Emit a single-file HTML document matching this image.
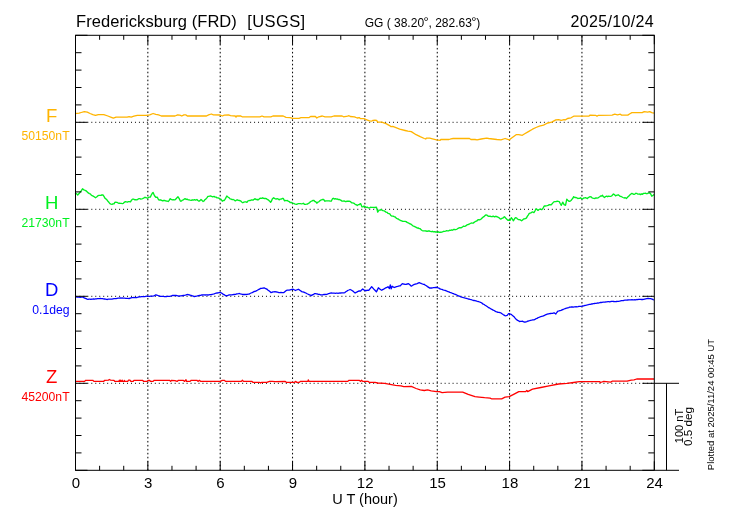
<!DOCTYPE html><html><head><meta charset="utf-8"><style>html,body{margin:0;padding:0;background:#fff;width:730px;height:520px;overflow:hidden}svg{display:block}</style></head><body><svg width="730" height="520" viewBox="0 0 730 520">
<rect width="730" height="520" fill="#fff"/>
<g stroke="#000" stroke-width="1" stroke-dasharray="1 2.97"><line x1="147.85" y1="35.3" x2="147.85" y2="470.29999999999995" stroke-dasharray="1.6 2.37" stroke-dashoffset="-0.67"/><line x1="220.20" y1="35.3" x2="220.20" y2="470.29999999999995" stroke-dasharray="1.6 2.37" stroke-dashoffset="-0.67"/><line x1="292.55" y1="35.3" x2="292.55" y2="470.29999999999995" stroke-dasharray="1.6 2.37" stroke-dashoffset="-0.67"/><line x1="364.90" y1="35.3" x2="364.90" y2="470.29999999999995" stroke-dasharray="1.6 2.37" stroke-dashoffset="-0.67"/><line x1="437.25" y1="35.3" x2="437.25" y2="470.29999999999995" stroke-dasharray="1.6 2.37" stroke-dashoffset="-0.67"/><line x1="509.60" y1="35.3" x2="509.60" y2="470.29999999999995" stroke-dasharray="1.6 2.37" stroke-dashoffset="-0.67"/><line x1="581.95" y1="35.3" x2="581.95" y2="470.29999999999995" stroke-dasharray="1.6 2.37" stroke-dashoffset="-0.67"/><line x1="75.5" y1="122.30" x2="654.3" y2="122.30" stroke-dashoffset="0.08"/><line x1="75.5" y1="209.30" x2="654.3" y2="209.30" stroke-dashoffset="0.08"/><line x1="75.5" y1="296.30" x2="654.3" y2="296.30" stroke-dashoffset="0.08"/><line x1="75.5" y1="383.30" x2="654.3" y2="383.30" stroke-dashoffset="0.08"/></g>
<polyline fill="none" stroke="#FFB400" stroke-width="1.3" stroke-linejoin="round" points="75.0,113.5 79.1,113.2 81.2,112.5 84.3,111.6 87.3,112.1 90.1,113.5 92.8,114.6 95.5,115.4 98.3,114.6 103.8,114.6 107.9,116.0 111.3,117.3 113.4,118.2 116.1,117.1 127.1,117.1 129.1,116.6 131.2,117.1 133.9,116.2 137.3,115.3 146.2,115.3 149.7,114.9 153.1,113.5 155.8,114.3 158.6,114.9 161.3,116.0 175.0,116.0 177.7,114.9 179.8,115.1 181.8,116.0 183.9,114.9 186.0,114.9 187.3,116.0 206.5,116.0 208.6,114.9 211.3,114.0 213.4,114.9 220.2,115.0 222.3,116.0 224.3,115.1 228.4,114.9 230.5,115.7 235.3,116.0 236.0,117.1 236.6,116.0 240.8,116.0 242.1,116.8 259.9,116.8 262.0,116.0 264.0,116.8 270.9,116.8 272.9,116.0 275.0,115.9 283.2,116.0 286.0,117.3 290.1,117.6 292.8,118.3 299.0,118.3 301.0,117.6 309.2,117.6 310.6,116.5 315.4,116.5 316.8,118.0 318.8,116.8 322.3,116.0 325.0,116.8 331.2,116.8 333.9,116.0 342.1,116.0 343.5,116.8 347.6,116.2 349.0,115.7 350.3,116.5 354.5,116.8 357.2,118.0 359.2,117.6 360.6,118.7 364.0,118.7 366.8,119.8 369.5,120.9 371.6,121.2 373.0,120.3 375.0,120.1 376.6,120.3 377.7,122.1 381.8,122.1 386.0,123.7 390.1,125.8 390.8,126.7 392.8,126.4 399.7,129.2 405.1,130.5 407.9,131.2 411.3,131.6 416.1,134.7 420.2,136.7 424.3,138.5 425.7,139.0 426.4,138.1 429.8,138.1 432.5,138.8 436.6,139.9 440.1,140.4 440.8,139.5 449.0,139.5 451.0,138.8 453.1,138.5 469.5,138.5 470.9,139.5 475.0,139.5 477.1,139.9 481.2,139.0 486.6,138.1 488.7,138.5 492.8,139.0 496.9,139.5 501.0,139.9 505.1,138.5 509.2,139.9 510.6,138.8 516.1,134.7 518.8,134.7 522.3,135.3 524.3,134.0 528.4,131.6 532.5,129.2 536.0,127.5 539.4,126.2 543.5,125.1 547.6,123.0 551.7,122.1 555.8,119.9 558.6,119.6 561.3,120.4 564.0,119.6 565.4,119.9 567.5,118.5 571.0,117.8 573.7,116.2 579.2,116.2 588.8,116.2 590.1,115.1 595.6,115.3 597.0,116.2 598.4,115.3 612.1,115.1 614.8,114.2 617.5,114.8 620.3,114.2 621.6,115.1 627.8,115.1 629.9,113.7 631.9,112.6 642.2,112.6 644.2,111.6 647.7,112.1 649.7,111.6 651.8,112.6 654.0,113.2"/>
<polyline fill="none" stroke="#00F020" stroke-width="1.35" stroke-linejoin="round" points="75.0,193.0 76.4,193.6 77.7,195.0 79.1,193.6 80.2,192.1 81.2,190.9 82.5,188.8 83.9,189.9 85.3,190.5 86.3,190.9 87.3,191.9 88.3,192.9 89.4,193.6 90.3,193.9 91.2,195.0 92.1,195.7 93.2,196.1 94.2,196.8 95.5,197.8 96.9,196.8 98.0,195.7 99.0,195.4 100.0,195.4 101.0,195.4 102.0,194.8 103.1,195.0 104.1,196.6 105.1,198.4 106.0,198.9 107.0,199.9 107.9,201.2 108.9,202.3 109.9,203.6 111.0,204.2 112.0,204.3 113.0,203.8 114.0,203.9 114.7,202.5 115.8,202.2 116.8,202.3 117.7,202.7 118.6,203.3 119.5,203.2 120.4,203.4 121.4,203.4 122.3,203.6 123.3,203.4 124.3,202.3 125.3,201.7 126.4,201.9 127.4,202.1 128.4,201.6 129.4,201.6 130.5,201.9 131.5,200.2 132.5,199.1 133.6,199.1 134.6,199.8 135.6,199.6 136.6,199.8 137.6,199.5 138.7,198.7 139.8,198.6 140.8,199.1 141.7,198.9 142.6,198.6 143.5,198.2 144.9,197.3 145.8,197.5 146.7,197.9 147.6,198.2 148.5,197.4 149.4,197.1 150.3,197.1 151.4,194.8 152.4,193.0 153.1,192.4 154.5,195.7 155.8,197.3 157.2,197.1 158.6,199.8 159.6,200.0 160.6,199.8 161.6,200.3 162.7,200.9 163.7,200.5 164.7,200.5 165.6,200.8 166.4,201.0 167.3,201.1 168.2,201.5 169.2,200.4 170.2,198.7 171.2,199.4 172.3,199.8 173.2,199.6 174.1,199.9 175.0,199.8 176.4,198.4 177.2,197.6 178.0,196.8 179.1,198.4 180.5,201.2 181.5,201.0 182.5,200.1 183.4,199.8 184.4,199.0 185.3,198.7 186.2,199.5 187.1,199.1 188.0,199.8 189.1,199.9 190.1,200.2 191.2,200.4 192.3,199.8 193.3,200.1 194.4,199.7 195.5,200.1 196.9,199.5 197.9,200.5 199.0,201.2 200.0,200.6 201.0,199.5 202.1,200.6 203.1,201.5 204.0,201.0 204.9,199.7 205.8,199.1 206.9,197.9 207.9,196.4 208.8,196.4 209.7,196.2 210.6,196.0 211.6,196.4 212.7,196.8 214.0,196.4 215.1,197.1 216.1,197.1 217.0,197.9 217.9,197.8 218.8,198.2 219.9,198.8 220.9,199.1 222.3,201.2 223.3,200.5 224.3,200.5 225.6,198.4 226.8,196.0 227.9,197.0 229.1,197.8 230.1,198.9 231.2,199.1 232.2,199.6 233.2,199.5 234.2,200.0 235.3,200.9 236.3,200.2 237.3,199.8 238.4,200.3 239.4,200.5 240.5,200.8 241.7,202.0 242.8,202.8 243.9,202.1 244.9,201.9 245.9,201.8 246.9,202.3 247.9,201.0 249.0,200.5 250.0,200.6 251.1,200.0 252.1,200.0 253.1,200.1 254.1,199.3 255.1,198.7 256.0,199.5 257.0,199.3 257.9,200.1 258.9,199.2 259.9,198.4 260.8,198.2 261.8,198.3 262.7,197.8 263.6,198.3 264.5,198.5 265.4,198.4 266.3,198.7 267.3,199.3 268.2,199.8 269.4,200.9 270.6,202.3 271.5,201.0 272.3,199.1 273.6,197.8 275.0,198.6 276.1,199.1 277.1,198.7 278.1,198.9 279.1,199.8 280.1,199.2 281.2,199.1 282.2,198.5 283.2,198.4 284.6,200.9 285.5,200.5 286.4,200.6 287.3,200.5 288.2,201.2 289.2,201.6 290.1,202.5 291.0,202.3 291.9,202.9 292.8,203.2 293.7,203.4 294.6,203.9 295.5,204.2 296.4,204.4 297.4,204.0 298.3,203.6 299.3,203.6 300.4,203.7 301.4,203.8 302.4,203.6 303.4,203.3 304.4,204.3 305.5,204.3 306.5,204.2 307.6,204.0 308.6,203.2 309.5,202.8 310.4,201.8 311.3,201.2 312.2,200.9 313.1,200.4 314.0,200.5 314.9,201.5 315.9,201.9 316.8,203.2 317.8,202.2 318.8,201.9 319.7,200.9 320.7,200.2 321.6,199.8 322.6,199.5 323.6,199.5 325.0,201.2 326.0,200.8 327.1,200.8 328.1,200.9 329.1,200.8 330.2,201.1 331.2,201.2 332.5,198.7 333.4,198.3 334.4,199.0 335.3,198.7 336.2,199.1 337.1,198.9 338.0,199.5 339.1,199.4 340.1,199.8 341.1,200.4 342.1,201.2 343.1,201.1 344.1,200.9 345.1,201.5 346.0,201.6 347.0,201.2 348.0,201.2 349.0,201.2 349.9,201.4 350.8,201.9 351.7,202.8 352.6,202.9 353.6,203.1 354.5,203.6 355.4,204.6 356.3,204.6 357.2,205.6 358.2,204.7 359.2,204.6 360.6,203.6 362.0,206.9 363.0,206.9 364.0,206.0 365.1,206.7 366.1,207.3 367.2,207.2 368.4,207.8 369.5,208.0 370.6,207.2 371.6,207.3 372.6,207.3 373.6,207.3 375.0,207.5 376.4,207.1 377.7,212.1 379.1,210.1 380.1,210.2 381.2,209.4 382.2,210.3 383.1,210.7 384.1,210.8 385.0,211.4 386.0,212.1 387.0,212.3 388.1,213.4 389.1,213.7 390.1,214.2 390.8,215.5 391.9,216.1 393.1,216.1 394.2,216.6 395.2,217.0 396.2,218.1 397.3,218.8 398.3,219.0 399.4,219.9 400.6,220.5 401.7,220.8 402.8,221.3 404.0,221.3 405.1,221.3 406.1,221.6 407.1,222.4 408.2,222.8 409.2,223.5 410.2,223.8 411.3,224.4 412.3,225.3 413.4,226.2 414.3,226.3 415.2,227.0 416.1,227.2 417.1,228.0 418.1,227.9 419.2,228.6 420.2,228.6 421.1,229.8 422.1,230.5 423.0,230.9 424.0,230.9 425.1,230.8 426.1,231.0 427.1,231.3 428.2,231.0 429.3,231.0 430.3,231.4 431.4,231.7 432.5,231.3 433.5,231.8 434.6,231.6 435.6,232.0 436.6,232.0 437.5,232.4 438.5,231.8 439.4,232.3 440.4,232.2 441.4,232.2 442.5,231.8 443.5,231.3 444.5,231.4 445.6,231.1 446.6,230.7 447.6,230.9 448.6,230.9 449.6,230.2 450.7,230.4 451.7,229.9 452.6,230.2 453.5,229.5 454.4,229.4 455.4,229.7 456.3,229.4 457.2,229.0 458.1,228.3 459.0,227.9 459.9,227.6 460.9,227.9 461.8,227.4 462.7,226.8 463.6,226.1 464.5,226.3 465.4,226.1 466.4,225.4 467.3,224.7 468.2,224.5 469.2,224.2 470.2,223.5 471.3,223.0 472.3,223.1 473.2,223.1 474.1,222.4 475.0,221.8 475.9,221.2 476.8,221.0 477.7,220.0 478.6,219.7 479.4,219.8 480.3,219.5 481.2,219.0 482.1,218.0 483.0,217.2 483.9,216.7 484.9,215.6 486.0,214.9 486.9,215.1 487.8,215.9 488.7,216.3 489.8,216.2 491.0,216.5 492.1,216.7 493.2,216.2 494.4,216.8 495.5,216.3 496.4,216.5 497.4,216.9 498.3,217.3 499.2,217.9 500.1,218.8 501.0,219.0 501.9,218.4 502.8,218.2 503.6,217.3 504.5,216.7 505.6,218.0 506.8,219.2 507.9,220.4 508.9,220.0 510.0,220.4 511.3,217.7 512.4,219.2 513.4,220.8 514.4,219.0 515.4,217.7 516.5,217.9 517.5,219.0 518.5,219.6 519.5,219.7 520.5,220.0 521.6,220.8 522.6,219.9 523.6,219.0 524.5,218.9 525.5,218.5 526.4,218.1 527.3,216.4 528.2,215.1 529.1,213.6 530.0,213.2 530.9,212.9 531.8,212.2 532.8,212.0 533.9,212.6 535.0,210.8 536.0,208.8 537.0,209.4 538.0,210.4 539.0,209.5 540.1,209.0 541.1,209.5 542.1,209.5 543.2,207.8 544.2,206.0 545.2,206.0 546.2,205.8 547.1,205.7 548.1,205.4 549.0,204.7 550.0,204.7 551.0,204.9 551.9,204.0 552.9,202.9 553.8,201.9 554.9,201.7 556.1,201.6 557.2,201.2 558.2,201.4 559.2,201.6 560.2,203.5 561.3,205.3 562.7,202.2 564.1,204.7 565.5,205.3 566.8,199.2 567.8,200.2 568.9,201.2 570.0,201.2 571.0,200.5 571.9,199.4 572.8,198.3 573.7,196.7 574.8,197.5 575.8,197.5 576.8,197.8 577.8,198.5 578.7,198.3 579.6,198.4 580.5,197.8 581.5,198.7 582.6,198.9 583.7,198.0 584.7,197.8 585.6,197.7 586.5,198.2 587.4,198.5 588.3,197.5 589.2,197.1 590.1,196.7 591.0,196.8 592.0,197.8 592.9,198.1 593.9,198.4 595.0,198.5 596.0,197.8 597.0,198.1 597.9,197.8 598.8,197.3 599.7,196.7 600.6,195.9 601.6,196.1 602.5,195.3 603.5,196.8 604.5,197.5 605.5,196.6 606.6,196.2 607.6,196.7 608.7,196.2 609.7,196.3 610.7,196.4 611.6,196.0 612.5,195.1 613.4,194.0 614.5,194.6 615.5,195.8 616.4,195.4 617.3,195.1 618.2,194.8 619.2,195.5 620.3,196.4 621.2,196.5 622.1,197.0 623.0,197.5 624.1,198.0 625.3,197.7 626.4,198.5 627.3,197.6 628.3,196.6 629.2,195.8 630.1,194.6 631.0,194.0 631.9,193.4 633.0,194.0 634.0,194.4 634.9,194.1 635.8,193.3 636.7,193.4 637.6,194.0 638.6,194.1 639.5,194.0 640.4,194.6 641.3,193.9 642.2,194.4 643.6,193.4 644.5,193.3 645.4,193.2 646.3,193.7 647.3,193.6 648.4,193.0 649.4,193.0 650.4,193.4 651.8,196.2 653.2,195.3 654.0,194.4"/>
<polyline fill="none" stroke="#0000FF" stroke-width="1.3" stroke-linejoin="round" points="75.0,296.9 76.0,296.9 77.0,297.0 78.1,297.2 79.1,297.2 80.1,297.3 81.2,297.1 82.2,297.1 83.2,297.2 84.2,297.9 85.3,298.3 86.2,298.7 87.1,299.1 88.0,299.4 89.0,299.2 89.9,299.1 90.9,299.3 91.8,299.1 92.8,299.1 93.7,298.9 94.6,299.1 95.5,298.9 96.5,298.9 97.4,298.6 98.3,298.6 99.3,298.7 100.3,298.5 101.4,298.7 102.4,298.6 103.4,298.8 104.5,299.0 105.5,299.2 106.5,299.4 107.4,299.5 108.3,299.2 109.2,299.1 110.2,299.2 111.1,299.1 112.0,299.1 113.0,298.9 114.0,298.7 115.1,298.6 116.1,298.6 117.1,298.4 118.2,298.2 119.2,298.1 120.2,298.0 121.1,298.1 122.0,298.0 123.0,298.2 123.9,298.1 124.8,298.2 125.7,298.3 126.8,298.3 128.0,298.4 129.1,298.6 130.0,298.1 130.9,298.0 131.8,297.6 132.9,297.6 133.9,297.5 134.9,297.6 136.0,297.6 137.1,297.5 138.3,297.0 139.4,296.9 140.4,296.9 141.4,296.7 142.5,296.7 143.5,296.6 144.6,296.6 145.8,296.3 146.9,296.2 147.9,296.2 148.8,296.3 149.8,296.3 150.7,296.2 151.7,296.2 152.8,296.1 153.8,295.8 154.8,295.4 155.8,294.9 156.9,295.2 157.9,295.5 158.8,295.8 159.7,296.1 160.6,296.4 161.6,296.3 162.5,296.4 163.5,296.4 164.4,296.6 165.4,296.6 166.4,296.5 167.4,296.4 168.5,296.3 169.5,296.4 170.4,296.2 171.4,295.9 172.3,295.5 173.2,295.5 174.1,295.4 175.0,295.4 176.0,295.5 177.1,295.7 178.1,296.0 179.1,296.2 180.1,295.9 181.1,295.8 182.2,295.6 183.2,295.5 184.2,295.4 185.1,295.2 186.1,294.9 187.0,294.6 188.0,294.5 188.9,294.9 189.9,295.0 190.8,295.3 191.9,295.7 193.1,296.0 194.2,296.6 195.3,296.3 196.5,296.1 197.6,295.8 198.6,295.6 199.5,295.4 200.5,295.3 201.4,295.0 202.4,295.0 203.3,294.9 204.2,294.9 205.2,295.0 206.1,294.9 207.0,294.9 207.9,295.0 208.9,294.8 209.9,294.7 211.0,294.7 212.0,294.5 213.0,294.2 214.1,293.9 215.1,293.5 216.1,293.1 217.1,293.0 218.1,292.9 219.2,292.6 220.2,292.5 221.2,292.9 222.3,293.5 223.4,294.4 224.6,294.9 225.7,295.8 226.7,295.6 227.8,295.4 228.8,295.0 229.8,294.9 230.8,294.9 231.9,294.8 232.9,294.6 233.9,294.5 234.8,294.4 235.7,294.3 236.7,293.9 237.6,293.8 238.5,293.7 239.4,293.5 240.4,293.9 241.4,294.1 242.5,294.3 243.5,294.5 244.4,294.5 245.3,294.5 246.2,294.4 247.2,294.4 248.1,294.2 249.0,294.2 250.0,293.5 251.1,293.0 252.1,292.6 253.1,292.1 254.1,291.5 255.1,291.3 256.2,290.8 257.2,290.3 258.3,289.7 259.5,289.1 260.6,288.4 261.7,288.3 262.9,288.1 264.0,288.0 264.9,288.2 265.9,288.8 266.8,289.0 267.8,289.9 268.9,290.8 269.9,291.6 270.9,292.5 271.9,292.3 272.9,291.9 274.0,291.9 275.0,291.6 276.0,291.8 277.1,292.0 278.1,292.3 279.1,292.6 280.1,292.7 281.0,292.5 282.0,292.7 282.9,292.7 283.9,292.6 284.8,291.8 285.7,291.0 286.6,290.3 287.5,290.2 288.4,290.2 289.2,290.1 290.1,289.9 291.0,289.7 291.9,289.5 292.8,289.2 293.7,289.5 294.6,290.0 295.5,290.5 296.4,290.0 297.4,289.7 298.3,289.2 299.4,289.9 300.6,290.8 301.7,291.6 302.7,291.8 303.8,292.2 304.8,292.6 305.8,293.0 306.7,293.5 307.7,294.0 308.6,294.4 309.5,294.9 310.4,295.1 311.3,295.6 312.4,294.9 313.6,294.3 314.7,293.6 315.6,293.7 316.6,293.8 317.5,294.0 318.5,294.3 319.6,294.4 320.6,294.8 321.6,294.9 322.6,294.9 323.6,294.5 324.7,294.5 325.7,294.4 326.6,294.3 327.5,294.1 328.4,293.7 329.4,293.4 330.3,293.1 331.2,293.0 332.2,293.2 333.2,293.1 334.3,293.2 335.3,293.3 336.2,293.1 337.1,293.2 338.1,293.3 339.0,293.0 339.9,293.1 340.8,293.0 341.8,292.9 342.9,292.9 343.9,292.8 344.9,292.6 345.8,291.8 346.7,291.3 347.6,290.5 348.9,290.0 350.1,289.5 351.2,290.0 352.4,290.8 353.3,291.4 354.2,292.3 355.1,293.0 356.1,292.4 357.2,291.9 358.2,291.3 359.2,290.8 360.6,291.2 361.6,289.9 362.7,288.9 363.7,289.7 364.7,290.5 365.7,290.4 366.8,290.5 367.8,290.2 368.8,290.3 369.7,289.2 370.7,288.0 371.6,286.7 372.7,287.8 373.9,289.2 375.0,290.3 376.4,291.9 377.4,289.9 378.4,287.8 379.8,288.9 380.8,289.7 381.8,290.3 382.7,289.6 383.7,289.1 384.6,288.5 385.7,287.9 386.9,287.4 388.0,286.7 389.4,288.5 390.3,284.8 391.2,288.9 392.1,286.2 393.1,286.9 394.2,287.5 395.3,287.1 396.5,286.7 397.6,286.4 398.5,286.1 399.4,285.9 400.3,285.8 401.4,284.6 402.4,283.7 403.3,284.0 404.2,284.1 405.1,284.4 406.1,284.3 407.2,284.0 408.6,283.7 409.5,284.5 410.4,285.3 411.3,286.2 412.4,285.5 413.4,284.8 414.3,284.4 415.2,284.2 416.1,284.0 417.1,283.7 418.1,283.2 419.1,282.6 420.4,283.2 421.6,283.7 422.5,284.0 423.4,284.3 424.3,284.4 425.4,285.2 426.4,285.8 427.5,286.6 428.7,287.4 429.8,288.1 430.7,287.9 431.6,288.0 432.5,287.8 433.4,287.7 434.4,287.7 435.3,287.5 436.3,287.5 437.3,287.5 438.2,287.9 439.1,288.2 439.9,288.9 440.8,289.2 441.9,289.4 443.0,289.8 444.0,290.1 445.1,290.4 446.2,290.8 447.1,291.2 448.0,291.7 448.9,291.8 449.9,292.3 450.8,292.6 451.7,293.0 452.6,293.4 453.5,293.7 454.4,294.1 455.4,294.4 456.3,294.8 457.2,295.3 458.1,295.8 459.0,296.0 459.9,296.3 460.9,296.8 461.8,297.2 462.7,297.4 463.6,297.7 464.5,297.8 465.4,298.1 466.4,298.3 467.3,298.7 468.2,299.0 469.2,299.1 470.1,299.4 471.1,299.7 472.1,300.0 473.1,300.3 474.0,300.5 475.0,300.7 475.9,300.9 476.8,301.2 477.8,301.5 478.7,301.7 479.6,302.0 480.5,302.3 481.4,302.8 482.3,303.4 483.2,304.2 484.2,304.5 485.1,305.2 486.0,305.8 487.1,306.5 488.2,307.3 489.2,307.8 490.3,308.5 491.4,309.2 492.3,309.6 493.2,310.1 494.1,310.5 495.1,311.1 496.0,311.6 496.9,311.9 497.9,312.3 498.9,312.3 500.0,312.6 501.0,313.0 502.0,313.8 503.1,314.5 504.1,315.1 505.1,315.8 506.1,315.6 507.2,315.3 508.6,313.6 509.5,313.7 510.4,314.1 511.3,314.4 512.2,315.3 513.1,316.0 514.0,316.7 514.9,317.9 515.9,319.0 516.8,319.9 517.7,320.4 518.6,320.8 519.5,321.5 520.4,321.3 521.4,321.3 522.3,321.2 523.2,321.6 524.1,322.0 525.0,322.2 525.9,321.9 526.8,321.6 527.7,321.2 528.6,321.0 529.6,320.7 530.5,320.4 531.6,320.2 532.8,319.9 533.9,319.9 534.9,319.4 536.0,318.7 537.0,318.4 538.0,317.7 538.9,317.4 539.8,317.0 540.8,316.6 541.7,316.4 542.6,316.2 543.5,315.8 544.5,315.4 545.5,314.8 546.6,314.3 547.6,314.0 548.6,313.9 549.6,313.7 550.6,313.5 551.5,313.3 552.5,313.3 553.5,313.0 554.5,313.0 555.8,314.0 556.8,312.5 557.9,311.2 559.0,310.9 560.0,310.6 561.0,310.3 562.0,309.8 563.1,309.5 564.1,309.0 565.0,308.7 565.9,308.3 566.9,308.0 567.8,307.9 568.7,307.6 569.6,307.2 570.5,307.1 571.4,307.0 572.4,307.0 573.3,307.1 574.2,306.9 575.1,306.9 576.1,306.7 577.0,306.8 578.0,306.7 579.0,306.4 580.0,306.3 580.9,306.3 581.9,306.2 582.8,306.0 583.7,305.8 584.6,305.5 585.6,305.4 586.5,305.2 587.4,304.9 588.4,304.7 589.3,304.4 590.3,304.4 591.3,304.0 592.3,304.0 593.2,303.6 594.2,303.5 595.2,303.3 596.2,303.3 597.2,303.0 598.1,303.1 599.1,302.8 600.1,302.5 601.1,302.5 602.1,302.3 603.0,302.2 604.0,302.2 605.0,302.2 606.0,301.8 606.9,301.8 607.9,301.7 608.9,301.6 609.8,301.8 610.8,301.5 611.7,301.4 612.7,301.4 613.7,301.5 614.6,301.6 615.6,301.6 616.5,301.5 617.5,301.4 618.5,301.4 619.6,301.2 620.6,300.9 621.6,300.7 622.7,300.7 623.7,300.5 624.8,300.1 625.8,300.1 626.8,300.1 627.8,300.0 628.9,299.9 629.9,299.9 630.9,299.8 632.0,299.7 633.0,299.8 634.0,299.8 634.9,299.7 635.8,299.8 636.8,299.5 637.7,299.7 638.6,299.4 639.5,299.4 640.5,299.4 641.5,299.5 642.6,299.5 643.6,299.4 644.6,299.1 645.7,298.8 646.7,298.6 647.7,298.4 648.6,298.5 649.5,298.7 650.4,298.7 651.3,298.9 652.2,299.2 653.1,299.6 654.0,299.8"/>
<polyline fill="none" stroke="#FF0000" stroke-width="1.3" stroke-linejoin="round" points="75.0,381.4 84.6,381.4 85.7,380.3 92.8,380.3 93.9,381.4 103.8,381.4 104.5,380.3 108.6,380.1 109.2,379.5 110.6,380.1 114.0,380.3 114.7,381.3 119.0,381.3 119.3,380.2 119.6,381.3 120.3,381.3 120.6,380.2 120.9,381.3 121.9,381.3 122.2,380.2 122.5,381.3 124.1,381.3 124.4,380.4 124.7,381.3 127.9,381.3 128.4,380.2 130.1,380.2 130.6,381.3 133.2,381.3 133.9,380.3 142.8,380.3 143.5,381.4 146.9,381.4 148.3,380.3 149.7,380.3 150.3,381.4 153.1,381.4 154.2,380.3 169.5,380.3 170.6,381.4 171.6,380.3 175.0,380.6 177.1,381.4 178.4,380.3 183.2,380.3 184.6,381.4 186.0,379.8 186.6,381.4 190.1,381.4 191.2,380.3 196.9,380.3 198.0,381.4 199.4,380.3 200.8,381.4 220.2,381.4 222.3,380.3 224.3,380.3 225.7,381.4 241.4,381.4 242.4,380.3 243.5,381.4 251.7,381.4 253.1,382.4 259.9,382.4 260.6,383.1 261.3,382.4 266.8,382.4 269.5,381.4 272.3,381.4 275.0,381.6 285.3,381.4 286.6,382.4 294.2,382.4 295.5,381.4 296.9,382.4 299.0,382.4 300.3,381.4 307.9,381.4 308.3,379.8 309.0,381.4 347.6,381.4 349.0,380.3 359.2,380.3 360.6,381.4 361.6,380.3 362.7,381.4 368.2,381.4 369.5,382.4 375.0,382.4 377.7,383.0 384.6,383.4 390.1,384.4 395.5,385.3 401.0,385.8 403.8,386.7 411.3,386.4 416.1,388.5 420.2,389.9 424.3,390.5 427.7,389.9 431.2,390.8 436.6,391.6 439.4,391.6 442.1,392.6 447.6,392.2 462.7,392.2 468.2,394.4 475.0,396.7 479.1,397.1 484.6,397.7 490.1,398.1 491.4,398.8 501.7,398.8 505.1,397.1 509.2,396.7 512.7,394.9 518.8,391.6 525.7,391.6 526.8,390.5 527.7,391.6 532.5,389.2 540.8,387.5 549.0,385.8 558.6,384.0 566.8,383.4 573.7,382.5 579.2,381.7 599.7,381.7 600.4,382.5 603.8,381.4 610.7,382.1 612.1,381.2 627.1,381.2 631.2,380.1 634.0,379.8 636.7,379.0 654.0,379.0"/>
<g stroke="#000" stroke-width="1" fill="none"><rect x="75.5" y="35.3" width="578.8" height="434.99999999999994" fill="none"/><line x1="75.50" y1="470.29999999999995" x2="75.50" y2="461.29999999999995"/><line x1="75.50" y1="35.3" x2="75.50" y2="44.3"/><line x1="99.62" y1="470.29999999999995" x2="99.62" y2="465.79999999999995"/><line x1="99.62" y1="35.3" x2="99.62" y2="39.8"/><line x1="123.73" y1="470.29999999999995" x2="123.73" y2="465.79999999999995"/><line x1="123.73" y1="35.3" x2="123.73" y2="39.8"/><line x1="147.85" y1="470.29999999999995" x2="147.85" y2="461.29999999999995"/><line x1="147.85" y1="35.3" x2="147.85" y2="44.3"/><line x1="171.97" y1="470.29999999999995" x2="171.97" y2="465.79999999999995"/><line x1="171.97" y1="35.3" x2="171.97" y2="39.8"/><line x1="196.08" y1="470.29999999999995" x2="196.08" y2="465.79999999999995"/><line x1="196.08" y1="35.3" x2="196.08" y2="39.8"/><line x1="220.20" y1="470.29999999999995" x2="220.20" y2="461.29999999999995"/><line x1="220.20" y1="35.3" x2="220.20" y2="44.3"/><line x1="244.32" y1="470.29999999999995" x2="244.32" y2="465.79999999999995"/><line x1="244.32" y1="35.3" x2="244.32" y2="39.8"/><line x1="268.43" y1="470.29999999999995" x2="268.43" y2="465.79999999999995"/><line x1="268.43" y1="35.3" x2="268.43" y2="39.8"/><line x1="292.55" y1="470.29999999999995" x2="292.55" y2="461.29999999999995"/><line x1="292.55" y1="35.3" x2="292.55" y2="44.3"/><line x1="316.67" y1="470.29999999999995" x2="316.67" y2="465.79999999999995"/><line x1="316.67" y1="35.3" x2="316.67" y2="39.8"/><line x1="340.78" y1="470.29999999999995" x2="340.78" y2="465.79999999999995"/><line x1="340.78" y1="35.3" x2="340.78" y2="39.8"/><line x1="364.90" y1="470.29999999999995" x2="364.90" y2="461.29999999999995"/><line x1="364.90" y1="35.3" x2="364.90" y2="44.3"/><line x1="389.02" y1="470.29999999999995" x2="389.02" y2="465.79999999999995"/><line x1="389.02" y1="35.3" x2="389.02" y2="39.8"/><line x1="413.13" y1="470.29999999999995" x2="413.13" y2="465.79999999999995"/><line x1="413.13" y1="35.3" x2="413.13" y2="39.8"/><line x1="437.25" y1="470.29999999999995" x2="437.25" y2="461.29999999999995"/><line x1="437.25" y1="35.3" x2="437.25" y2="44.3"/><line x1="461.37" y1="470.29999999999995" x2="461.37" y2="465.79999999999995"/><line x1="461.37" y1="35.3" x2="461.37" y2="39.8"/><line x1="485.48" y1="470.29999999999995" x2="485.48" y2="465.79999999999995"/><line x1="485.48" y1="35.3" x2="485.48" y2="39.8"/><line x1="509.60" y1="470.29999999999995" x2="509.60" y2="461.29999999999995"/><line x1="509.60" y1="35.3" x2="509.60" y2="44.3"/><line x1="533.72" y1="470.29999999999995" x2="533.72" y2="465.79999999999995"/><line x1="533.72" y1="35.3" x2="533.72" y2="39.8"/><line x1="557.83" y1="470.29999999999995" x2="557.83" y2="465.79999999999995"/><line x1="557.83" y1="35.3" x2="557.83" y2="39.8"/><line x1="581.95" y1="470.29999999999995" x2="581.95" y2="461.29999999999995"/><line x1="581.95" y1="35.3" x2="581.95" y2="44.3"/><line x1="606.07" y1="470.29999999999995" x2="606.07" y2="465.79999999999995"/><line x1="606.07" y1="35.3" x2="606.07" y2="39.8"/><line x1="630.18" y1="470.29999999999995" x2="630.18" y2="465.79999999999995"/><line x1="630.18" y1="35.3" x2="630.18" y2="39.8"/><line x1="654.30" y1="470.29999999999995" x2="654.30" y2="461.29999999999995"/><line x1="654.30" y1="35.3" x2="654.30" y2="44.3"/><line x1="75.5" y1="35.30" x2="87.5" y2="35.30"/><line x1="654.3" y1="35.30" x2="642.3" y2="35.30"/><line x1="75.5" y1="52.70" x2="81.5" y2="52.70"/><line x1="654.3" y1="52.70" x2="648.3" y2="52.70"/><line x1="75.5" y1="70.10" x2="81.5" y2="70.10"/><line x1="654.3" y1="70.10" x2="648.3" y2="70.10"/><line x1="75.5" y1="87.50" x2="81.5" y2="87.50"/><line x1="654.3" y1="87.50" x2="648.3" y2="87.50"/><line x1="75.5" y1="104.90" x2="81.5" y2="104.90"/><line x1="654.3" y1="104.90" x2="648.3" y2="104.90"/><line x1="75.5" y1="122.30" x2="87.5" y2="122.30"/><line x1="654.3" y1="122.30" x2="642.3" y2="122.30"/><line x1="75.5" y1="139.70" x2="81.5" y2="139.70"/><line x1="654.3" y1="139.70" x2="648.3" y2="139.70"/><line x1="75.5" y1="157.10" x2="81.5" y2="157.10"/><line x1="654.3" y1="157.10" x2="648.3" y2="157.10"/><line x1="75.5" y1="174.50" x2="81.5" y2="174.50"/><line x1="654.3" y1="174.50" x2="648.3" y2="174.50"/><line x1="75.5" y1="191.90" x2="81.5" y2="191.90"/><line x1="654.3" y1="191.90" x2="648.3" y2="191.90"/><line x1="75.5" y1="209.30" x2="87.5" y2="209.30"/><line x1="654.3" y1="209.30" x2="642.3" y2="209.30"/><line x1="75.5" y1="226.70" x2="81.5" y2="226.70"/><line x1="654.3" y1="226.70" x2="648.3" y2="226.70"/><line x1="75.5" y1="244.10" x2="81.5" y2="244.10"/><line x1="654.3" y1="244.10" x2="648.3" y2="244.10"/><line x1="75.5" y1="261.50" x2="81.5" y2="261.50"/><line x1="654.3" y1="261.50" x2="648.3" y2="261.50"/><line x1="75.5" y1="278.90" x2="81.5" y2="278.90"/><line x1="654.3" y1="278.90" x2="648.3" y2="278.90"/><line x1="75.5" y1="296.30" x2="87.5" y2="296.30"/><line x1="654.3" y1="296.30" x2="642.3" y2="296.30"/><line x1="75.5" y1="313.70" x2="81.5" y2="313.70"/><line x1="654.3" y1="313.70" x2="648.3" y2="313.70"/><line x1="75.5" y1="331.10" x2="81.5" y2="331.10"/><line x1="654.3" y1="331.10" x2="648.3" y2="331.10"/><line x1="75.5" y1="348.50" x2="81.5" y2="348.50"/><line x1="654.3" y1="348.50" x2="648.3" y2="348.50"/><line x1="75.5" y1="365.90" x2="81.5" y2="365.90"/><line x1="654.3" y1="365.90" x2="648.3" y2="365.90"/><line x1="75.5" y1="383.30" x2="87.5" y2="383.30"/><line x1="654.3" y1="383.30" x2="642.3" y2="383.30"/><line x1="75.5" y1="400.70" x2="81.5" y2="400.70"/><line x1="654.3" y1="400.70" x2="648.3" y2="400.70"/><line x1="75.5" y1="418.10" x2="81.5" y2="418.10"/><line x1="654.3" y1="418.10" x2="648.3" y2="418.10"/><line x1="75.5" y1="435.50" x2="81.5" y2="435.50"/><line x1="654.3" y1="435.50" x2="648.3" y2="435.50"/><line x1="75.5" y1="452.90" x2="81.5" y2="452.90"/><line x1="654.3" y1="452.90" x2="648.3" y2="452.90"/><line x1="75.5" y1="470.30" x2="87.5" y2="470.30"/><line x1="654.3" y1="470.30" x2="642.3" y2="470.30"/><line x1="654.3" y1="383.30" x2="679" y2="383.30"/><line x1="654.3" y1="470.29999999999995" x2="679" y2="470.29999999999995"/><line x1="666.5" y1="383.30" x2="666.5" y2="470.29999999999995"/></g>
<text x="76" y="26.8" font-size="16.5" letter-spacing="0.07" font-family="Liberation Sans, Arial, sans-serif">Fredericksburg (FRD)</text><text x="247.2" y="26.8" font-size="16.5" letter-spacing="0.4" font-family="Liberation Sans, Arial, sans-serif">[USGS]</text><text x="364.7" y="26.7" font-size="12" font-family="Liberation Sans, Arial, sans-serif">GG ( 38.20<tspan font-size="13" dx="-0.5" dy="-0.9">°</tspan><tspan dx="-0.3" dy="0.9">, 282.63</tspan><tspan font-size="13" dx="-0.5" dy="-0.9">°</tspan><tspan dx="-0.3" dy="0.9">)</tspan></text><text x="654" y="26.6" font-size="16" letter-spacing="0.35" text-anchor="end" font-family="Liberation Sans, Arial, sans-serif">2025/10/24</text><text x="75.80" y="487.8" font-size="15" text-anchor="middle" font-family="Liberation Sans, Arial, sans-serif">0</text><text x="148.15" y="487.8" font-size="15" text-anchor="middle" font-family="Liberation Sans, Arial, sans-serif">3</text><text x="220.50" y="487.8" font-size="15" text-anchor="middle" font-family="Liberation Sans, Arial, sans-serif">6</text><text x="292.85" y="487.8" font-size="15" text-anchor="middle" font-family="Liberation Sans, Arial, sans-serif">9</text><text x="365.20" y="487.8" font-size="15" text-anchor="middle" font-family="Liberation Sans, Arial, sans-serif">12</text><text x="437.55" y="487.8" font-size="15" text-anchor="middle" font-family="Liberation Sans, Arial, sans-serif">15</text><text x="509.90" y="487.8" font-size="15" text-anchor="middle" font-family="Liberation Sans, Arial, sans-serif">18</text><text x="582.25" y="487.8" font-size="15" text-anchor="middle" font-family="Liberation Sans, Arial, sans-serif">21</text><text x="654.60" y="487.8" font-size="15" text-anchor="middle" font-family="Liberation Sans, Arial, sans-serif">24</text><text x="365" y="503.8" font-size="14.5" text-anchor="middle" font-family="Liberation Sans, Arial, sans-serif">U T (hour)</text><text x="51.7" y="121.70" font-size="18.5" text-anchor="middle" fill="#FFB400" font-family="Liberation Sans, Arial, sans-serif">F</text><text x="69.6" y="140.20" font-size="12.2" text-anchor="end" fill="#FFB400" font-family="Liberation Sans, Arial, sans-serif">50150nT</text><text x="51.7" y="208.70" font-size="18.5" text-anchor="middle" fill="#00F020" font-family="Liberation Sans, Arial, sans-serif">H</text><text x="69.6" y="227.20" font-size="12.2" text-anchor="end" fill="#00F020" font-family="Liberation Sans, Arial, sans-serif">21730nT</text><text x="51.7" y="295.70" font-size="18.5" text-anchor="middle" fill="#0000FF" font-family="Liberation Sans, Arial, sans-serif">D</text><text x="69.6" y="314.20" font-size="12.2" text-anchor="end" fill="#0000FF" font-family="Liberation Sans, Arial, sans-serif">0.1deg</text><text x="51.7" y="382.70" font-size="18.5" text-anchor="middle" fill="#FF0000" font-family="Liberation Sans, Arial, sans-serif">Z</text><text x="69.6" y="401.20" font-size="12.2" text-anchor="end" fill="#FF0000" font-family="Liberation Sans, Arial, sans-serif">45200nT</text><text transform="translate(683,426) rotate(-90)" font-size="11" text-anchor="middle" font-family="Liberation Sans, Arial, sans-serif">100 nT</text><text transform="translate(691.7,426.4) rotate(-90)" font-size="11.7" text-anchor="middle" font-family="Liberation Sans, Arial, sans-serif">0.5 deg</text><text transform="translate(714.4,470.2) rotate(-90)" font-size="9.5" font-family="Liberation Sans, Arial, sans-serif">Plotted at 2025/11/24 00:45 UT</text>
</svg></body></html>
